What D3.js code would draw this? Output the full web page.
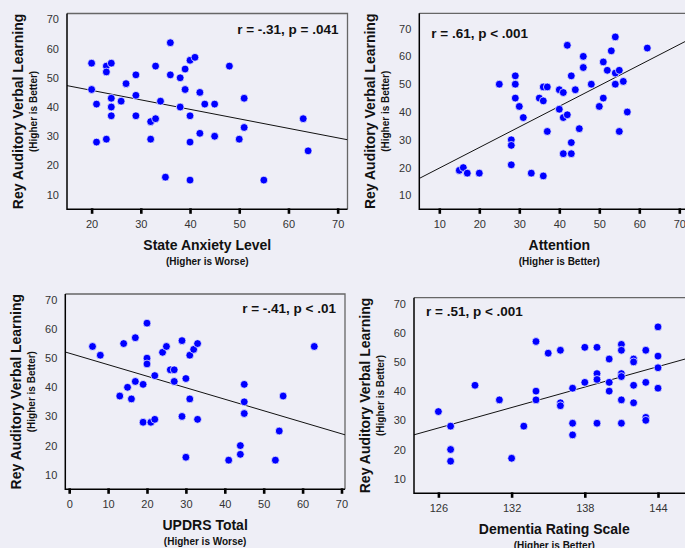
<!DOCTYPE html>
<html>
<head>
<meta charset="utf-8">
<script src="https://cdn.jsdelivr.net/npm/d3@7"></script>
<style>
    body { margin: 0; background: #eeeef6; }
    svg { display: block; font-family: "Liberation Sans", Arial, sans-serif; }
</style>
</head>
<body>
<div id="graphContainer"></div>
<script>
"use strict";

// Shared y variable: Rey Auditory Verbal Learning score
const yTickValues = [10, 20, 30, 40, 50, 60, 70];

// Panel 1 - State anxiety
const anxietyScores = [20, 20, 21, 21, 23, 23, 24, 24, 24, 24, 23, 26, 27, 29, 29, 29, 32, 32, 33, 33, 34, 35, 36, 36, 38, 38, 39, 39, 40, 41, 40, 40, 40, 42, 42, 43, 45, 45, 48, 50, 51, 51, 55, 63, 64];
const anxietyRavlt = [55, 46, 41, 28, 54, 52, 55, 43, 40, 37, 29, 42, 48, 51, 44, 37, 35, 29, 54, 36, 42, 16, 62, 51, 50, 40, 53, 46, 56, 57, 37, 28, 15, 45, 31, 41, 41, 30, 54, 29, 43, 33, 15, 36, 25];
const anxietyTicks = [20, 30, 40, 50, 60, 70];
const anxietyFit = [52.2, -0.325]; // intercept, slope

// Panel 2 - Attention
const attentionScores = [15, 16, 17, 20, 25, 28, 28, 28, 29, 29, 29, 30, 31, 33, 35, 36, 36, 36, 37, 37, 40, 40, 41, 41, 41, 42, 42, 43, 43, 43, 44, 45, 46, 46, 48, 50, 51, 51, 52, 53, 54, 54, 54, 55, 55, 56, 57, 62];
const attentionRavlt = [19, 20, 18, 18, 50, 30, 28, 21, 53, 50, 45, 42, 38, 18, 45, 49, 44, 17, 49, 33, 48, 41, 47, 38, 25, 64, 39, 53, 29, 25, 48, 34, 60, 56, 50, 42, 58, 45, 55, 62, 67, 54, 50, 55, 33, 51, 40, 63];
const attentionTicks = [10, 20, 30, 40, 50, 60, 70];
const attentionFit = [12.4, 0.741];

// Panel 3 - UPDRS total
const updrsScores = [6, 8, 13, 14, 15, 16, 17, 17, 19, 19, 20, 20, 20, 21, 22, 22, 24, 25, 26, 27, 27, 29, 29, 30, 30, 31, 31, 32, 33, 33, 41, 44, 44, 45, 45, 45, 53, 54, 55, 63];
const updrsRavlt = [54, 51, 37, 55, 40, 36, 57, 42, 41, 28, 62, 50, 48, 28, 44, 29, 52, 54, 46, 46, 42, 56, 30, 43, 16, 51, 36, 53, 55, 29, 15, 20, 17, 41, 35, 31, 15, 25, 37, 54];
const updrsTicks = [0, 10, 20, 30, 40, 50, 60, 70];
const updrsFit = [51.7, -0.395];

// Panel 4 - Dementia rating scale
const drsScores = [126, 127, 127, 127, 129, 131, 132, 133, 134, 134, 134, 135, 136, 136, 136, 137, 137, 137, 138, 138, 139, 139, 139, 139, 140, 140, 140, 141, 141, 141, 141, 141, 141, 142, 142, 142, 142, 143, 143, 143, 143, 144, 144, 144, 144];
const drsRavlt = [33, 28, 20, 16, 42, 37, 17, 28, 57, 40, 37, 53, 54, 36, 35, 41, 29, 25, 55, 43, 55, 46, 44, 29, 51, 43, 40, 56, 54, 46, 45, 37, 29, 51, 50, 42, 36, 54, 43, 31, 30, 62, 52, 48, 41];
const drsTicks = [126, 132, 138, 144];
const drsFit = [-119.8, 1.168];

const width = 685, height = 548;

const svg = d3.select("#graphContainer").append("svg")
    .attr("width", width)
    .attr("height", height)
    .attr("viewBox", [0, 0, width, height]);

// Layout of each panel (pixel box + axis domains)
const panels = [
    {
        xs: anxietyScores, ys: anxietyRavlt, ticks: anxietyTicks, fit: anxietyFit,
        box: { left: 67, right: 347.5, top: 13.5, bottom: 209.3 },
        xDomain: [15, 72], yDomain: [5, 72],
        xTitle: "State Anxiety Level", xSub: "(Higher is Worse)",
        stat: "r = -.31, p = .041", statAlign: "right", statY: 29,
        yTitleX: 18
    },
    {
        xs: attentionScores, ys: attentionRavlt, ticks: attentionTicks, fit: attentionFit,
        box: { left: 419.3, right: 699.3, top: 13.3, bottom: 209.3 },
        xDomain: [5, 75], yDomain: [5, 75.5],
        xTitle: "Attention", xSub: "(Higher is Better)",
        stat: "r = .61, p < .001", statAlign: "left", statY: 33,
        yTitleX: 370
    },
    {
        xs: updrsScores, ys: updrsRavlt, ticks: updrsTicks, fit: updrsFit,
        box: { left: 65.3, right: 345, top: 294, bottom: 489.3 },
        xDomain: [-1, 70.9], yDomain: [5, 72],
        xTitle: "UPDRS Total", xSub: "(Higher is Worse)",
        stat: "r = -.41, p < .01", statAlign: "right", statY: 308,
        yTitleX: 16
    },
    {
        xs: drsScores, ys: drsRavlt, ticks: drsTicks, fit: drsFit,
        box: { left: 414, right: 694.6, top: 297.7, bottom: 493.3 },
        xDomain: [124, 147], yDomain: [5, 72],
        xTitle: "Dementia Rating Scale", xSub: "(Higher is Better)",
        stat: "r = .51, p < .001", statAlign: "left", statY: 311,
        yTitleX: 365
    }
];

panels.forEach((p, i) => DrawPanel(p, i));

function DrawPanel(p, i) {
    const b = p.box;
    const xScale = d3.scaleLinear().domain(p.xDomain).range([b.left, b.right]);
    const yScale = d3.scaleLinear().domain(p.yDomain).range([b.bottom, b.top]);
    const g = svg.append("g");

    g.append("clipPath")
        .attr("id", "clip" + i)
        .append("rect")
        .attr("x", b.left).attr("y", b.top)
        .attr("width", b.right - b.left).attr("height", b.bottom - b.top);

    // Top and right frame in grey
    g.append("path")
        .attr("d", `M${b.left},${b.top}H${b.right}V${b.bottom}`)
        .attr("fill", "none")
        .attr("stroke", "#666")
        .attr("stroke-width", 1.3);

    // Regression line across the whole x range
    const fitData = p.xDomain.map(x => ({ x: x, y: p.fit[0] + p.fit[1] * x }));
    g.append("path")
        .datum(fitData)
        .attr("clip-path", `url(#clip${i})`)
        .attr("fill", "none")
        .attr("stroke", "#111")
        .attr("stroke-width", 1)
        .attr("d", d3.line().x(d => xScale(d.x)).y(d => yScale(d.y)));

    // Data points
    g.append("g")
        .attr("clip-path", `url(#clip${i})`)
        .selectAll("circle")
        .data(p.xs.map((x, j) => ({ x: x, y: p.ys[j] })))
        .join("circle")
        .attr("cx", d => xScale(d.x))
        .attr("cy", d => yScale(d.y))
        .attr("r", 3.9)
        .attr("fill", "#0000ff")
        .attr("stroke", "#fff")
        .attr("stroke-width", 0.7);

    // x-axis
    g.append("g")
        .attr("transform", `translate(0,${b.bottom})`)
        .call(d3.axisBottom(xScale).tickValues(p.ticks).tickSizeInner(4.5).tickSizeOuter(0).tickPadding(6.5))
        .call(a => a.select(".domain").remove())
        .call(a => a.selectAll(".tick line").attr("y1", -1).attr("stroke", "#000").attr("stroke-width", 2.6))
        .call(a => a.selectAll(".tick text").attr("fill", "#333").attr("font-size", 11).attr("font-family", null));

    // y-axis
    g.append("g")
        .attr("transform", `translate(${b.left},0)`)
        .call(d3.axisLeft(yScale).tickValues(yTickValues).tickSize(0).tickPadding(8))
        .call(a => a.select(".domain").remove())
        .call(a => a.selectAll(".tick text").attr("fill", "#333").attr("font-size", 11).attr("font-family", null));

    // Left and bottom frame in black
    g.append("path")
        .attr("d", `M${b.left},${b.top}V${b.bottom}H${b.right}`)
        .attr("fill", "none")
        .attr("stroke", "#000")
        .attr("stroke-width", 1.5);

    // Axis titles
    const cx = (b.left + b.right) / 2;
    g.append("text")
        .attr("x", cx).attr("y", b.bottom + 41)
        .attr("text-anchor", "middle")
        .attr("font-weight", "bold")
        .attr("font-size", 14)
        .attr("fill", "#111")
        .text(p.xTitle);
    g.append("text")
        .attr("x", cx).attr("y", b.bottom + 56)
        .attr("text-anchor", "middle")
        .attr("font-weight", "bold")
        .attr("font-size", 10)
        .attr("fill", "#111")
        .text(p.xSub);

    const cy = (b.top + b.bottom) / 2;
    g.append("text")
        .attr("transform", `translate(${p.yTitleX + 5},${cy}) rotate(-90)`)
        .attr("text-anchor", "middle")
        .attr("font-weight", "bold")
        .attr("font-size", 14)
        .attr("fill", "#111")
        .text("Rey Auditory Verbal Learning");
    g.append("text")
        .attr("transform", `translate(${p.yTitleX + 19},${cy}) rotate(-90)`)
        .attr("text-anchor", "middle")
        .attr("font-weight", "bold")
        .attr("font-size", 10)
        .attr("fill", "#111")
        .text("(Higher is Better)");

    // Correlation annotation
    g.append("text")
        .attr("x", p.statAlign === "right" ? b.right - 9 : b.left + 12)
        .attr("y", p.statY + 5)
        .attr("text-anchor", p.statAlign === "right" ? "end" : "start")
        .attr("font-weight", "bold")
        .attr("font-size", 13.5)
        .attr("fill", "#111")
        .text(p.stat);
}
</script>
</body>
</html>
